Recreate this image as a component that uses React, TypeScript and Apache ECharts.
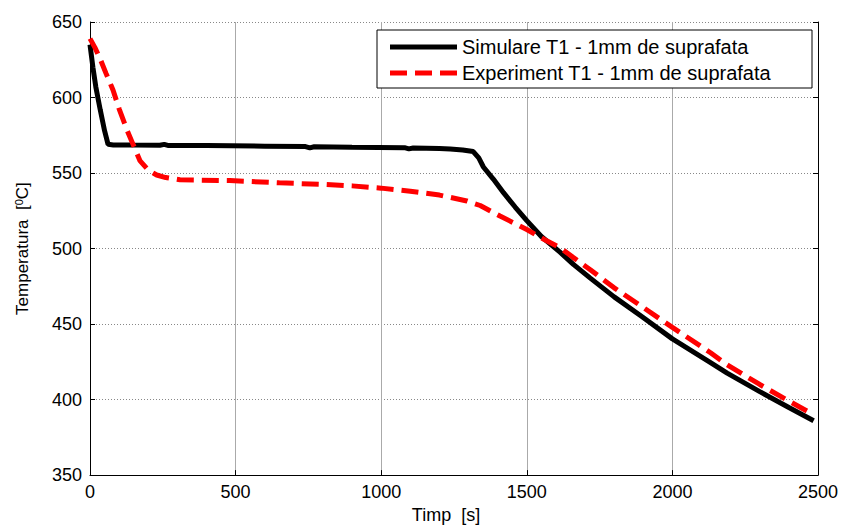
import React, { useEffect, useRef } from "react";
import * as echarts from "echarts";

const simTime = [0, 10, 20, 35, 50, 62, 80, 150, 240, 255, 270, 400, 600, 740, 755, 770, 900, 1080, 1095, 1110, 1200, 1237, 1280, 1316, 1335, 1351, 1385, 1420, 1460, 1500, 1550, 1615, 1660, 1718, 1800, 1896, 2000, 2131, 2188, 2300, 2400, 2485];
const simTemp = [635, 620, 607, 592, 578, 569, 568.6, 568.5, 568.4, 569, 568.2, 568.2, 567.8, 567.5, 566.7, 567.4, 567.1, 566.8, 566.0, 566.6, 566.2, 565.9, 565.3, 564.2, 560, 554, 546, 537, 527.5, 518.5, 508, 497.5, 489.5, 480.4, 468, 454.8, 440.2, 424.5, 417.5, 405.3, 394.8, 386];

const expTime = [0, 17, 34, 55, 79, 100, 126, 150, 172, 200, 229, 260, 309, 480, 650, 800, 900, 1000, 1100, 1200, 1294, 1340, 1408, 1460, 1500, 1560, 1615, 1660, 1718, 1800, 1896, 2000, 2131, 2188, 2300, 2400, 2485];
const expTemp = [639, 633, 626, 616, 605, 592.5, 579, 568, 558, 552, 548.7, 547, 545.5, 545, 543.5, 542.5, 541.5, 540, 538, 535.4, 531.5, 528.5, 521.5, 516.5, 512.6, 506, 500.5, 494, 486, 474, 461.5, 447.8, 431, 423, 410, 399, 390];

const xTicks = [0, 500, 1000, 1500, 2000, 2500];
const yTicks = [350, 400, 450, 500, 550, 600, 650];

const seriesNames = ["Simulare T1 - 1mm de suprafata", "Experiment T1 - 1mm de suprafata"];
const xTitle = "Timp  [s]";
const yTitle = "{n|Temperatura  [}{s|0}{n|C]}";

const FONT = "'Liberation Sans', Arial, sans-serif";

export default function App() {
  const ref = useRef<HTMLDivElement>(null);
  useEffect(() => {
    if (!ref.current) return;
    const chart = echarts.init(ref.current, null, { renderer: "svg" });
    const pair = (t: number[], v: number[]) => t.map((x, i) => [x, v[i]]);
    const xMin = xTicks[0];
    const xMax = xTicks[xTicks.length - 1];
    const yMin = yTicks[0];
    const yMax = yTicks[yTicks.length - 1];
    chart.setOption({
      animation: false,
      backgroundColor: "#ffffff",
      textStyle: { fontFamily: FONT },
      grid: { left: 90, right: 24, top: 22, bottom: 47, containLabel: false },
      legend: {
        orient: "vertical",
        left: 377,
        top: 30,
        itemWidth: 67,
        itemHeight: 5,
        itemGap: 6,
        padding: [7, 41, 5, 13],
        borderColor: "#000",
        borderWidth: 1,
        backgroundColor: "#fff",
        borderRadius: 0,
        textStyle: { fontSize: 20, color: "#000", fontFamily: FONT, lineHeight: 19 },
        data: [
          { name: seriesNames[0], icon: "path://M0,0h67v5h-67z" },
          { name: seriesNames[1], icon: "path://M0,0h17v5h-17z M25,0h17v5h-17z M50,0h17v5h-17z" },
        ],
      },
      xAxis: {
        type: "value",
        min: xMin,
        max: xMax,
        interval: xTicks[1] - xTicks[0],
        name: xTitle,
        nameLocation: "middle",
        nameGap: 22,
        nameTextStyle: { fontSize: 18, color: "#000", fontFamily: FONT, padding: [0, 16, 0, 0] },
        axisLine: { show: true, onZero: false, lineStyle: { color: "#000", width: 1 } },
        axisTick: { show: true, inside: true, length: 5, lineStyle: { color: "#000" } },
        axisLabel: { fontSize: 18, color: "#000", margin: 8, fontFamily: FONT, formatter: (v: number) => String(v) },
        splitLine: { show: true, lineStyle: { color: "#aaa", width: 1, type: "solid" } },
      },
      yAxis: [
        {
          type: "value",
          min: yMin,
          max: yMax,
          interval: yTicks[1] - yTicks[0],
          name: yTitle,
          nameLocation: "middle",
          nameGap: 58,
          nameTextStyle: {
            fontSize: 17,
            color: "#000",
            fontFamily: FONT,
            rich: {
              n: { fontSize: 17, color: "#000", fontFamily: FONT },
              s: { fontSize: 11, color: "#000", fontFamily: FONT, verticalAlign: "top", padding: [0, 0, 8, 0] },
            },
          },
          axisLine: { show: true, onZero: false, lineStyle: { color: "#000", width: 1 } },
          axisTick: { show: true, inside: true, length: 5, lineStyle: { color: "#000" } },
          axisLabel: { fontSize: 18, color: "#000", margin: 8, fontFamily: FONT, formatter: (v: number) => String(v) },
          splitLine: { show: true, lineStyle: { color: "#888", width: 1, type: [1, 2] } },
        },
        {
          type: "value",
          min: yMin,
          max: yMax,
          interval: yTicks[1] - yTicks[0],
          position: "right",
          axisLine: { show: true, onZero: false, lineStyle: { color: "#000", width: 1 } },
          axisTick: { show: true, inside: true, length: 5, lineStyle: { color: "#000" } },
          axisLabel: { show: false },
          splitLine: { show: false },
        },
      ],
      series: [
        {
          name: seriesNames[0],
          type: "line",
          data: pair(simTime, simTemp),
          showSymbol: false,
          symbol: "none",
          lineStyle: { color: "#000", width: 5, type: "solid" },
          itemStyle: { color: "#000" },
          z: 3,
        },
        {
          name: seriesNames[1],
          type: "line",
          data: pair(expTime, expTemp),
          showSymbol: false,
          symbol: "none",
          lineStyle: { color: "#ff0000", width: 5, type: [17, 8] },
          itemStyle: { color: "#ff0000" },
          z: 4,
        },
      ],
    });
    return () => chart.dispose();
  }, []);
  return (
    <div
      ref={ref}
      style={{ position: "fixed", left: 0, top: 0, width: 842, height: 529, background: "#fff" }}
    />
  );
}
